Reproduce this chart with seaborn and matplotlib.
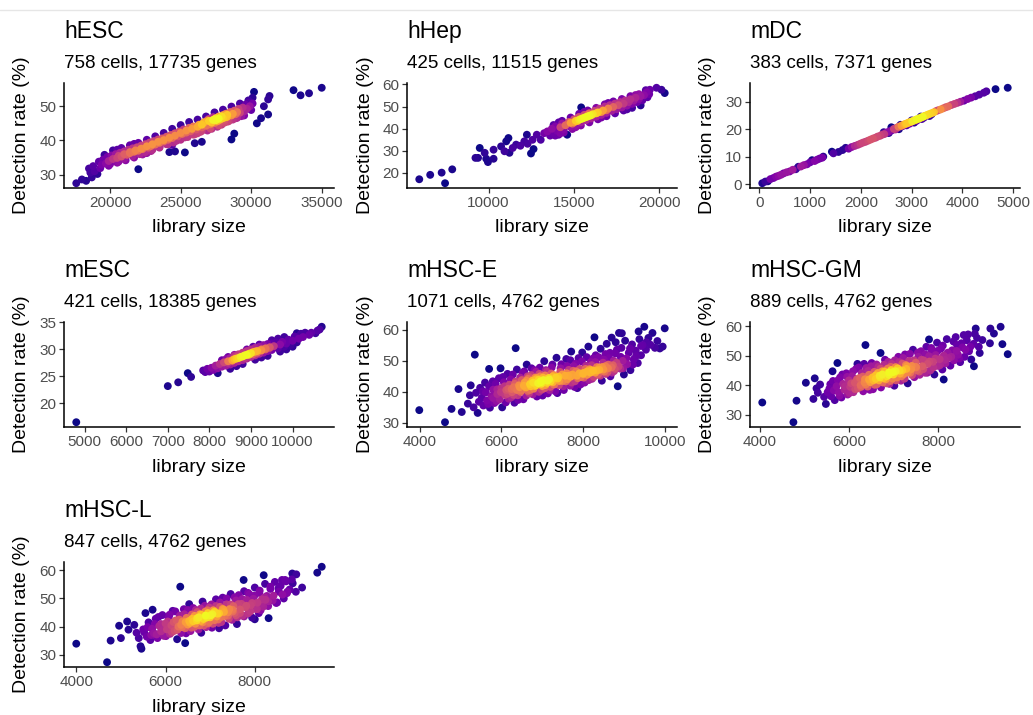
import numpy as np
import pandas as pd
import seaborn as sns
import matplotlib
matplotlib.use("Agg")
import matplotlib.pyplot as plt
from matplotlib.lines import Line2D

# ---- data (library size, detection rate %) ----
hesc_lib = [17600, 18000, 18300, 18700, 18600, 18500, 18900, 18800, 19100, 19200,
            19300, 19400, 19500, 19700, 19800, 19900, 20000, 20100, 20200, 20400,
            20500, 20600, 20700, 20800, 21000, 21000, 21200, 21300, 21400, 21600,
            21600, 21700, 21900, 22000, 22000, 22100, 22200, 22300, 22500, 22500,
            22700, 22800, 22900, 23000, 23100, 23200, 23400, 23500, 23500, 23700,
            23800, 24000, 24000, 24100, 24200, 24300, 24400, 24500, 24600, 24600,
            24800, 24900, 25000, 25100, 25300, 25200, 25400, 25500, 25600, 25700,
            25900, 26000, 26000, 26100, 26300, 26400, 26500, 26500, 26600, 26800,
            26900, 27000, 27100, 27200, 27300, 27400, 27500, 27600, 27600, 27700,
            27800, 27900, 28000, 28000, 28100, 28200, 28300, 28400, 28500, 28600,
            28600, 28700, 28800, 28800, 28900, 29000, 29100, 29200, 29300, 29400,
            29500, 29600, 29700, 29800, 29900, 30000, 30100, 30200, 30100, 30400,
            30700, 31200, 30900, 31200, 31300, 33000, 33500, 34100, 35000, 27300,
            27000, 27200, 27500, 27700, 27900, 28100, 28300, 26700, 26500, 26200,
            25800, 25400, 25000, 24600, 24200, 23800, 23400, 23000, 22600, 22200,
            21800, 21400, 21000, 20600, 28700, 29000, 27400, 27800, 26900, 28200,
            19600, 20200, 20800, 21400, 22000, 22600, 23200, 23800, 24400, 25000,
            25600, 26200, 26800, 27400, 28000, 28600, 29200, 29800, 20500, 21700,
            19900, 20500, 21100, 21700, 22300, 22900, 23500, 24100, 24700, 25300,
            25900, 26500, 27100, 27700, 28300, 28900, 29500, 22600, 24400, 26200]
hesc_det = [27.5, 28.6, 28.2, 29.2, 30.6, 31.8, 31.0, 32.5, 30.2, 33.8,
            31.9, 32.9, 34.4, 33.3, 35.2, 34.0, 33.1, 35.6, 34.6, 36.0,
            34.9, 33.8, 36.4, 35.3, 36.8, 34.6, 35.8, 37.3, 36.3, 35.4,
            37.7, 36.7, 38.0, 31.6, 37.0, 36.0, 38.5, 37.5, 36.6, 38.9,
            37.9, 39.4, 38.4, 37.3, 39.8, 38.8, 40.3, 39.3, 38.1, 40.6,
            39.7, 41.1, 38.9, 40.2, 36.6, 41.6, 40.7, 39.4, 42.1, 36.8,
            41.2, 42.6, 40.2, 41.9, 36.5, 43.2, 42.3, 41.0, 43.7, 42.7,
            44.1, 41.8, 39.2, 43.2, 44.6, 42.5, 39.6, 43.8, 45.1, 44.3,
            42.9, 45.7, 44.7, 43.4, 46.0, 45.1, 46.5, 44.0, 45.6, 47.0,
            46.1, 44.6, 47.4, 46.5, 45.2, 47.8, 46.9, 45.6, 48.3, 40.3,
            47.3, 46.1, 42.0, 48.7, 47.7, 46.6, 49.2, 48.1, 47.1, 49.6,
            48.5, 50.5, 49.3, 51.0, 50.0, 48.9, 52.5, 54.2, 50.8, 45.0,
            46.5, 47.6, 50.0, 52.0, 53.0, 54.7, 53.2, 53.8, 55.4, 46.8,
            46.3, 45.2, 45.9, 46.4, 47.0, 46.0, 47.5, 45.4, 44.6, 44.0,
            43.4, 42.9, 42.2, 41.4, 40.8, 40.1, 39.6, 38.9, 38.3, 37.6,
            37.1, 36.6, 36.0, 35.5, 47.8, 48.3, 46.2, 45.5, 45.9, 46.8,
            35.8, 37.1, 37.8, 38.6, 39.3, 40.2, 41.2, 42.2, 43.4, 44.5,
            45.4, 46.1, 47.0, 48.2, 49.0, 49.9, 50.8, 51.7, 37.3, 39.0,
            32.6, 33.5, 34.2, 35.0, 35.9, 36.9, 37.9, 38.9, 39.9, 40.9,
            41.7, 42.8, 43.5, 44.4, 45.5, 46.5, 47.3, 36.3, 38.7, 42.1]

hhep_lib = [5940, 6580, 7250, 7450, 7870, 9230, 9380, 9480, 9770, 9860,
            9960, 10290, 10290, 10730, 10930, 11030, 11160, 11220, 11410, 11610,
            11860, 12090, 12240, 12280, 12480, 12630, 12570, 12820, 13050, 13250,
            13440, 13600, 13700, 13800, 13900, 14000, 14100, 14200, 14300, 14400,
            14600, 14500, 14700, 14800, 14900, 15000, 15100, 15200, 15300, 15420,
            15400, 15500, 15600, 15700, 15800, 15900, 16000, 16100, 16200, 16300,
            16400, 16500, 16600, 16700, 16800, 16900, 17000, 17100, 17200, 17300,
            17400, 17500, 17600, 17700, 17800, 17900, 18000, 18100, 18200, 18300,
            18400, 18500, 18600, 18700, 18800, 18900, 19000, 19100, 19200, 19300,
            19250, 19440, 19830, 20120, 20310, 19400, 15000, 15300, 15600, 15900,
            15100, 15400, 15700, 16000, 16300, 14800, 16600, 16900, 15250, 15850,
            13800, 14300, 14800, 15300, 15800, 16300, 16800, 17300, 17800, 18300,
            18800, 14100, 15600, 17000, 18600, 13900, 14400, 14900, 15400, 15900,
            16400, 16900, 17400, 17900, 18400, 18900, 15100, 16600, 18100, 14200]
hhep_det = [17.0, 19.0, 20.0, 15.2, 21.5, 26.7, 26.7, 31.2, 29.0, 26.3,
            24.8, 26.3, 30.4, 31.9, 29.7, 34.2, 35.7, 29.0, 31.2, 32.7,
            32.2, 34.2, 37.2, 33.1, 28.7, 30.7, 34.9, 37.2, 34.9, 37.9,
            38.7, 36.8, 39.9, 38.2, 41.0, 39.0, 37.2, 40.6, 42.3, 39.6,
            37.2, 41.5, 43.0, 40.8, 42.2, 44.2, 41.6, 43.4, 45.3, 49.6,
            42.8, 44.6, 46.2, 43.8, 45.5, 47.0, 44.6, 46.5, 48.0, 45.4,
            47.3, 49.0, 46.2, 48.2, 50.0, 47.1, 49.1, 50.6, 48.0, 49.8,
            51.3, 48.8, 50.6, 52.0, 49.6, 51.3, 52.7, 50.4, 52.0, 53.3,
            51.2, 52.7, 54.0, 52.0, 53.4, 54.7, 52.8, 55.1, 57.4, 54.2,
            56.5, 57.6, 58.5, 57.6, 56.1, 55.6, 42.8, 44.0, 44.9, 45.8,
            43.5, 44.3, 45.2, 46.0, 46.9, 42.6, 47.5, 48.3, 45.0, 46.6,
            41.6, 43.5, 45.0, 46.7, 48.2, 49.4, 51.0, 52.3, 53.4, 54.7,
            55.6, 42.8, 47.6, 51.6, 55.2, 36.8, 38.2, 39.8, 41.4, 42.8,
            44.2, 45.6, 46.9, 48.2, 49.4, 50.5, 40.6, 45.0, 48.7, 37.9]

mdc_lib = [60, 120, 170, 220, 280, 330, 380, 430, 480, 540,
           600, 660, 720, 770, 820, 880, 940, 1000, 1040, 1090,
           1140, 1190, 1240, 1260, 1430, 1460, 1560, 1640, 1700, 1760,
           1820, 1880, 1940, 1990, 2040, 2090, 2140, 2190, 2240, 2290,
           2330, 2380, 2420, 2460, 2500, 2540, 2580, 2610, 2650, 2680,
           2710, 2740, 2770, 2800, 2830, 2860, 2890, 2920, 2950, 2980,
           3010, 3040, 3070, 3100, 3130, 3160, 3190, 3220, 3250, 3280,
           3320, 3360, 3400, 3440, 3480, 3520, 3570, 3620, 3670, 3720,
           3780, 3840, 3900, 3960, 4030, 4100, 4170, 4250, 4330, 4420,
           4470, 4650, 4890, 2600, 2750, 2900, 3050, 3200, 2450, 3350,
           2680, 2820, 2960, 3100, 3240, 3390, 2550, 2780, 3000, 3180]
mdc_det = [0.3, 0.9, 1.0, 1.8, 2.2, 2.7, 3.0, 3.4, 3.9, 4.3,
           4.6, 5.2, 5.4, 6.3, 6.4, 6.9, 7.2, 7.9, 8.7, 8.4,
           8.9, 9.3, 9.6, 10.0, 11.8, 11.2, 11.7, 12.4, 13.2, 12.9,
           13.5, 13.9, 14.3, 14.7, 15.1, 15.4, 15.8, 16.2, 16.6, 16.9,
           17.3, 17.6, 18.0, 18.2, 18.7, 19.0, 19.4, 19.6, 20.1, 20.3,
           20.5, 20.9, 21.0, 21.3, 21.5, 21.8, 22.0, 22.2, 22.5, 22.6,
           22.9, 23.1, 23.3, 23.6, 23.8, 24.0, 24.3, 24.5, 24.8, 25.0,
           25.3, 25.6, 25.9, 26.2, 26.6, 26.9, 27.2, 27.6, 28.0, 28.3,
           28.8, 29.2, 29.6, 30.0, 30.4, 31.0, 31.5, 32.0, 32.6, 33.3,
           33.8, 34.6, 35.1, 20.7, 20.0, 21.4, 22.4, 23.7, 18.9, 24.8,
           19.9, 21.1, 22.0, 23.1, 24.2, 25.4, 18.6, 21.6, 23.2, 24.6]

mesc_lib = [4800, 7000, 7250, 7480, 7560, 7850, 7900, 7950, 8000, 8050,
            8100, 8150, 8200, 8250, 8300, 8350, 8400, 8400, 8450, 8500,
            8500, 8550, 8600, 8600, 8650, 8700, 8700, 8750, 8800, 8800,
            8850, 8900, 8900, 8950, 9000, 9000, 9050, 9100, 9100, 9150,
            9200, 9200, 9250, 9300, 9300, 9350, 9400, 9400, 9450, 9500,
            9500, 9550, 9600, 9650, 9700, 9750, 9800, 9850, 9900, 9950,
            10000, 10050, 10100, 10150, 10200, 10250, 10300, 10400, 10450, 10550,
            10600, 10700, 10650, 8650, 8750, 8850, 8950, 9050, 9150, 8550,
            8700, 8800, 8900, 9000, 9100, 9250, 8600, 9350, 8450, 9450,
            8300, 8600, 8900, 9200, 9500, 9800, 10100, 8450, 9050, 9650,
            8200, 8500, 8800, 9100, 9400, 9700, 10000, 8650, 9250, 9850]
mesc_det = [16.5, 23.2, 23.9, 25.6, 24.9, 26.1, 25.8, 26.4, 25.9, 26.6,
            26.2, 27.0, 26.5, 27.3, 26.8, 27.6, 27.0, 28.2, 27.5, 28.4,
            27.2, 28.0, 28.8, 27.5, 28.3, 29.1, 27.8, 28.6, 29.4, 28.0,
            28.9, 29.7, 28.3, 29.2, 30.0, 28.6, 29.5, 30.3, 28.9, 29.7,
            30.5, 29.2, 30.0, 30.8, 29.4, 30.2, 31.0, 29.7, 30.4, 31.1,
            29.9, 30.6, 31.3, 30.2, 30.9, 31.4, 30.5, 31.1, 31.8, 30.8,
            31.6, 32.4, 31.3, 32.0, 32.9, 32.3, 33.1, 32.7, 33.1, 33.0,
            33.5, 34.2, 33.7, 28.6, 28.9, 28.4, 29.0, 29.1, 29.4, 27.9,
            28.4, 28.7, 29.0, 29.3, 29.6, 29.8, 28.2, 30.0, 27.8, 30.3,
            28.0, 29.0, 30.0, 30.9, 31.7, 32.3, 33.0, 28.6, 30.5, 32.0,
            25.6, 26.4, 27.3, 28.1, 28.8, 29.6, 30.5, 26.9, 28.5, 30.0]

hsce_lib = [3990, 4620, 4780, 4950, 5030, 5250, 5350, 6350, 5700, 5980,
            5180, 5230, 5320, 5380, 5420, 5450, 5480, 5520, 5560, 5600,
            5620, 5650, 5700, 5720, 5760, 5800, 5830, 5860, 5900, 5940,
            5960, 6000, 6020, 6060, 6090, 6120, 6150, 6180, 6200, 6230,
            6260, 6300, 6320, 6350, 6380, 6400, 6430, 6460, 6490, 6520,
            6540, 6570, 6600, 6620, 6650, 6680, 6700, 6730, 6760, 6790,
            6810, 6840, 6870, 6900, 6930, 6960, 6990, 7020, 7050, 7080,
            7110, 7140, 7170, 7200, 7230, 7260, 7290, 7320, 7350, 7380,
            7410, 7440, 7470, 7500, 7530, 7560, 7590, 7620, 7650, 7680,
            7710, 7740, 7770, 7800, 7830, 7860, 7890, 7920, 7950, 7980,
            8010, 8040, 8070, 8100, 8130, 8160, 8190, 8220, 8250, 8280,
            8310, 8340, 8370, 8400, 8430, 8460, 8490, 8520, 8550, 8580,
            8610, 8640, 8670, 8700, 8730, 8760, 8790, 8820, 8850, 8880,
            8910, 8940, 8970, 9000, 9030, 9080, 9120, 9160, 9200, 9240,
            9290, 9340, 9380, 9420, 9460, 9500, 9540, 9600, 9650, 9700,
            9760, 9820, 9880, 9950, 10000, 9360, 8950, 8800, 8550, 8250,
            6550, 6620, 6680, 6720, 6780, 6830, 6860, 6910, 6950, 6980,
            7030, 7070, 7120, 7160, 7210, 7260, 7300, 6450, 6380, 6250,
            8000, 8100, 8200, 8300, 8400, 8500, 8600, 8700, 7850, 7700,
            6150, 6080, 5900, 5800, 6300, 6650, 6850, 7000, 7400, 7600,
            5550, 5680, 5790, 5880, 5990, 6040, 6110, 6170, 6240, 6280,
            6330, 6410, 6470, 6500, 6560, 6610, 6640, 6700, 6740, 6770,
            6820, 6880, 6920, 6940, 6970, 7010, 7060, 7090, 7130, 7180,
            7220, 7250, 7280, 7330, 7370, 7420, 7450, 7490, 7520, 7580,
            7610, 7640, 7690, 7720, 7760, 7790, 7820, 7870, 7910, 7940,
            7970, 8020, 8060, 8090, 8140, 8180, 8210, 8260, 8300, 8330,
            8380, 8420, 8470, 8510, 8560, 8620, 8660, 8710, 8750, 8780,
            8830, 8870, 8920, 8980, 9060, 9150, 9220, 9300, 9420, 9550]
hsce_det = [34.1, 30.2, 34.5, 40.9, 33.5, 42.1, 52.0, 54.1, 47.4, 47.6,
            36.2, 38.9, 35.0, 39.7, 33.2, 36.8, 41.3, 38.1, 35.6, 43.0,
            39.8, 37.2, 41.8, 34.9, 38.6, 40.7, 36.4, 42.6, 39.3, 44.4,
            37.6, 41.2, 35.0, 43.1, 39.0, 40.6, 45.8, 37.8, 42.3, 44.0,
            39.9, 41.5, 36.5, 43.3, 47.2, 38.9, 42.1, 44.6, 40.4, 46.0,
            37.6, 43.0, 41.4, 48.8, 44.2, 39.6, 42.5, 45.4, 43.6, 41.0,
            47.0, 44.0, 38.5, 42.8, 45.8, 43.4, 40.7, 44.6, 49.9, 42.2,
            46.5, 39.5, 44.0, 41.6, 47.8, 43.1, 45.4, 40.2, 51.0, 44.3,
            42.2, 46.4, 48.9, 43.5, 40.6, 45.2, 50.6, 44.1, 47.1, 42.0,
            53.0, 45.6, 48.3, 43.4, 46.6, 41.2, 50.9, 47.4, 44.8, 52.7,
            46.1, 43.0, 48.4, 45.5, 54.6, 47.3, 49.6, 44.2, 46.8, 57.6,
            51.8, 48.0, 45.6, 47.1, 53.9, 43.6, 49.4, 46.5, 48.3, 55.5,
            47.6, 50.9, 45.0, 57.5, 48.6, 46.7, 52.4, 49.4, 41.8, 59.0,
            47.5, 54.2, 50.0, 45.6, 56.5, 48.9, 52.6, 47.0, 55.3, 50.5,
            53.3, 49.3, 57.0, 51.8, 55.1, 61.0, 53.6, 57.4, 55.2, 59.0,
            54.2, 56.4, 54.0, 54.6, 60.5, 59.5, 58.9, 56.0, 52.2, 50.8,
            42.0, 43.6, 44.8, 41.8, 43.0, 44.6, 42.2, 43.9, 45.0, 42.6,
            43.8, 45.3, 42.9, 44.5, 43.4, 45.0, 42.4, 41.5, 40.6, 40.9,
            45.8, 46.6, 47.0, 46.2, 47.8, 47.2, 46.4, 47.9, 45.2, 44.9,
            39.4, 41.8, 40.8, 38.0, 39.0, 40.3, 46.5, 41.9, 44.9, 46.0,
            40.2, 36.1, 43.4, 37.0, 39.9, 44.8, 36.6, 41.0, 38.2, 45.6,
            42.6, 37.4, 40.0, 43.8, 46.6, 38.8, 45.0, 40.6, 47.6, 39.2,
            41.9, 44.4, 40.0, 47.8, 43.1, 38.8, 41.2, 47.0, 43.6, 40.6,
            45.9, 48.8, 42.4, 44.6, 39.6, 43.5, 47.6, 45.6, 41.8, 43.4,
            48.3, 45.2, 50.2, 43.0, 46.8, 41.6, 49.1, 44.4, 46.0, 42.4,
            49.8, 44.6, 47.4, 51.2, 43.8, 46.2, 48.6, 44.8, 49.6, 46.9,
            51.2, 45.2, 48.0, 50.4, 45.8, 48.8, 52.6, 46.2, 50.0, 47.4,
            53.6, 48.2, 51.3, 47.6, 50.8, 54.0, 48.8, 51.6, 54.8, 56.0]

hscgm_lib = [4050, 4750, 4820, 5030, 5230, 5270, 5200, 5440, 5480, 5630,
             5740, 6190, 6340, 6370, 6710, 7800, 8130, 8810, 8850, 9180,
             9260, 9410, 9450, 9570, 9170, 8940, 8580, 8430, 5300, 5350,
             5560, 5600, 5640, 5680, 5720, 5770, 5800, 5830, 5870, 5900,
             5940, 5970, 6000, 6030, 6070, 6100, 6130, 6160, 6200, 6230,
             6260, 6290, 6320, 6360, 6390, 6420, 6450, 6480, 6510, 6540,
             6570, 6600, 6630, 6660, 6690, 6720, 6750, 6780, 6810, 6840,
             6870, 6900, 6930, 6960, 6990, 7020, 7050, 7080, 7110, 7140,
             7170, 7200, 7230, 7260, 7290, 7320, 7350, 7380, 7410, 7440,
             7470, 7500, 7530, 7560, 7590, 7620, 7650, 7680, 7710, 7740,
             7770, 7800, 7830, 7860, 7890, 7920, 7950, 7980, 8010, 8040,
             8070, 8100, 8130, 8170, 8200, 8240, 8280, 8320, 8360, 8400,
             8450, 8500, 8550, 8600, 8650, 8700, 8750, 8800, 8880, 9000,
             6600, 6650, 6700, 6750, 6800, 6850, 6900, 6950, 7000, 7050,
             7100, 7150, 7200, 6550, 6450, 6350, 7300, 7400, 7500, 6250,
             5520, 5580, 5660, 5750, 5790, 5850, 5910, 5960, 6010, 6050,
             6090, 6140, 6180, 6220, 6270, 6310, 6380, 6430, 6470, 6500,
             6530, 6580, 6620, 6670, 6710, 6760, 6790, 6830, 6880, 6910,
             6940, 6980, 7030, 7060, 7090, 7130, 7180, 7220, 7250, 7280,
             7330, 7370, 7420, 7460, 7510, 7550, 7580, 7630, 7670, 7720,
             7760, 7810, 7850, 7900, 7940, 7990, 8050, 8110, 8160, 8220,
             8300, 8350, 8420, 8480, 8530, 8620, 8680, 8730, 8830, 8920]
hscgm_det = [34.1, 27.4, 34.7, 40.8, 42.3, 38.9, 35.3, 36.0, 33.6, 44.7,
             47.5, 47.2, 47.2, 53.6, 50.9, 55.5, 41.9, 46.4, 59.2, 59.2,
             57.5, 59.8, 53.9, 50.5, 54.2, 50.9, 57.0, 53.6, 37.4, 40.2,
             38.8, 36.2, 41.4, 34.9, 39.6, 37.5, 42.6, 35.8, 40.4, 38.4,
             44.0, 36.8, 41.6, 39.4, 43.0, 37.6, 40.8, 45.5, 38.9, 42.4,
             40.0, 44.1, 37.9, 42.0, 45.8, 39.5, 43.5, 41.0, 47.5, 38.6,
             44.5, 42.1, 40.3, 46.2, 43.2, 39.2, 44.7, 42.3, 48.6, 40.6,
             45.6, 43.5, 41.4, 47.2, 44.4, 39.8, 46.1, 42.6, 49.6, 44.9,
             41.5, 47.3, 43.7, 50.4, 45.5, 40.6, 48.2, 44.2, 46.5, 52.0,
             42.7, 47.6, 45.0, 49.6, 43.5, 51.5, 46.4, 48.4, 44.2, 53.0,
             47.2, 49.8, 45.0, 51.8, 47.9, 43.6, 50.2, 54.4, 46.5, 48.8,
             52.4, 45.3, 50.0, 47.4, 55.6, 49.2, 46.6, 51.8, 48.4, 56.3,
             50.3, 47.8, 52.8, 49.6, 55.2, 51.5, 48.7, 54.0, 56.0, 55.3,
             43.3, 44.1, 42.6, 43.6, 44.6, 43.0, 44.3, 45.1, 43.6, 44.7,
             45.6, 43.9, 45.0, 41.6, 41.9, 40.9, 46.4, 45.4, 46.2, 42.3,
             37.6, 40.3, 38.2, 41.6, 36.4, 43.6, 39.6, 42.8, 37.3, 40.6,
             44.7, 38.6, 42.0, 46.0, 39.4, 42.9, 40.2, 44.8, 38.4, 46.4,
             42.6, 40.1, 47.0, 41.6, 45.6, 40.9, 46.9, 42.0, 47.9, 40.4,
             46.2, 42.2, 48.4, 41.6, 45.6, 47.8, 43.0, 49.2, 42.2, 46.8,
             44.4, 50.6, 43.4, 48.4, 46.0, 51.0, 44.6, 48.6, 45.4, 50.4,
             44.2, 48.0, 52.6, 46.0, 49.0, 51.6, 46.8, 53.4, 48.6, 51.0,
             49.6, 54.8, 51.6, 49.0, 54.2, 52.0, 57.2, 53.0, 57.4, 53.0]

hscl_lib = [4000, 4690, 4770, 4960, 5000, 5140, 5170, 5400, 5440, 5460,
            5550, 5710, 6330, 6440, 7750, 8310, 8200, 8540, 8720, 8610,
            8840, 8930, 9060, 9400, 9500, 8240, 8090, 5300, 5350, 5500,
            5580, 5620, 5660, 5700, 5740, 5780, 5820, 5860, 5900, 5930,
            5960, 6000, 6030, 6070, 6100, 6130, 6160, 6200, 6230, 6260,
            6290, 6320, 6350, 6380, 6410, 6440, 6470, 6500, 6530, 6560,
            6590, 6620, 6650, 6680, 6710, 6740, 6770, 6800, 6830, 6860,
            6890, 6920, 6950, 6980, 7010, 7040, 7070, 7100, 7130, 7160,
            7190, 7220, 7250, 7280, 7310, 7340, 7370, 7400, 7430, 7460,
            7490, 7520, 7550, 7580, 7610, 7640, 7670, 7700, 7730, 7760,
            7790, 7820, 7850, 7880, 7910, 7940, 7970, 8000, 8030, 8060,
            8100, 8130, 8160, 8190, 8230, 8270, 8300, 8350, 8400, 8450,
            8500, 8580, 8650, 8700, 8780, 8850, 8000, 7600, 7200, 6800,
            6600, 6650, 6700, 6750, 6800, 6850, 6900, 6950, 7000, 7050,
            7100, 7150, 7200, 6550, 6450, 6350, 7300, 7400, 7500, 6250,
            5520, 5600, 5680, 5760, 5800, 5840, 5900, 5950, 6010, 6050,
            6090, 6140, 6180, 6220, 6270, 6310, 6370, 6420, 6460, 6500,
            6530, 6580, 6620, 6670, 6710, 6760, 6790, 6830, 6880, 6910,
            6940, 6980, 7030, 7060, 7090, 7130, 7180, 7220, 7250, 7280,
            7330, 7370, 7420, 7460, 7510, 7550, 7580, 7630, 7670, 7720,
            7760, 7810, 7850, 7900, 7940, 7990, 8050, 8110, 8160, 8220,
            8300, 8350, 8420, 8480, 8530, 8620, 8680, 8730, 8830, 8920]
hscl_det = [33.9, 27.3, 35.0, 40.3, 35.9, 41.8, 38.9, 35.9, 33.0, 32.1,
            44.8, 46.0, 54.2, 34.1, 56.6, 43.0, 58.3, 52.4, 51.9, 56.6,
            58.9, 58.6, 53.9, 59.2, 61.3, 49.5, 44.8, 40.6, 37.8, 39.0,
            36.4, 41.5, 35.2, 39.2, 37.6, 42.8, 35.9, 40.2, 38.3, 44.1,
            36.7, 41.1, 39.0, 43.2, 37.4, 40.4, 45.6, 38.5, 42.2, 35.5,
            40.0, 43.9, 37.7, 41.8, 46.2, 39.4, 43.1, 40.7, 48.0, 38.4,
            44.3, 41.9, 39.9, 45.9, 43.0, 39.0, 44.4, 42.0, 48.9, 40.4,
            45.3, 43.2, 41.1, 46.8, 44.0, 39.6, 45.8, 42.3, 49.7, 44.6,
            41.3, 47.0, 43.4, 50.3, 45.2, 40.4, 47.9, 43.9, 46.2, 51.6,
            42.4, 47.3, 44.8, 49.3, 43.3, 51.2, 46.1, 48.1, 43.9, 52.6,
            46.9, 49.5, 44.7, 51.5, 47.6, 43.2, 49.9, 53.9, 46.2, 48.5,
            52.0, 45.8, 49.7, 47.1, 55.2, 50.9, 47.3, 53.4, 49.3, 55.9,
            48.6, 54.5, 50.0, 56.1, 53.2, 55.4, 42.6, 40.9, 39.4, 37.8,
            42.8, 43.8, 42.2, 43.3, 44.2, 42.7, 43.9, 44.8, 43.3, 44.4,
            45.3, 43.6, 44.7, 41.3, 41.6, 40.6, 46.0, 45.1, 46.0, 42.0,
            38.0, 39.8, 37.0, 40.9, 37.2, 43.4, 40.9, 39.0, 36.6, 41.8,
            44.2, 38.0, 41.6, 45.4, 38.9, 42.5, 39.8, 44.4, 37.6, 45.9,
            42.0, 39.6, 46.6, 41.0, 45.2, 40.4, 46.4, 41.5, 47.4, 39.8,
            45.8, 41.6, 47.9, 41.0, 45.1, 47.3, 42.5, 48.6, 41.6, 46.3,
            43.8, 50.0, 42.8, 47.9, 45.4, 50.4, 44.0, 48.0, 44.8, 49.8,
            43.6, 47.4, 52.0, 45.4, 48.4, 51.0, 46.2, 52.8, 48.0, 50.4,
            49.0, 54.2, 51.0, 48.4, 53.6, 51.4, 56.6, 52.4, 56.8, 52.4]

names = ["hESC", "hHep", "mDC", "mESC", "mHSC-E", "mHSC-GM", "mHSC-L"]
subtitles = ["758 cells, 17735 genes", "425 cells, 11515 genes", "383 cells, 7371 genes",
             "421 cells, 18385 genes", "1071 cells, 4762 genes", "889 cells, 4762 genes",
             "847 cells, 4762 genes"]
xticks = [[20000, 25000, 30000, 35000], [10000, 15000, 20000], [0, 1000, 2000, 3000, 4000, 5000],
          [5000, 6000, 7000, 8000, 9000, 10000], [4000, 6000, 8000, 10000], [4000, 6000, 8000],
          [4000, 6000, 8000]]
yticks = [[30, 40, 50], [20, 30, 40, 50, 60], [0, 10, 20, 30], [20, 25, 30, 35],
          [30, 40, 50, 60], [30, 40, 50, 60], [30, 40, 50, 60]]
libs = [hesc_lib, hhep_lib, mdc_lib, mesc_lib, hsce_lib, hscgm_lib, hscl_lib]
dets = [hesc_det, hhep_det, mdc_det, mesc_det, hsce_det, hscgm_det, hscl_det]


def point_density(x, y, bw=0.7):
    # gaussian kde evaluated at each point, narrower than scott's rule
    d = np.vstack([x, y])
    n = d.shape[1]
    cov = np.cov(d) * (bw * n ** (-1.0 / 6)) ** 2
    inv = np.linalg.inv(cov)
    diff = d[:, :, None] - d[:, None, :]
    m = np.einsum("ijk,il,ljk->jk", diff, inv, diff)
    dens = np.exp(-0.5 * m).sum(axis=1)
    dens = (dens - dens.min()) / (dens.max() - dens.min())
    return dens ** 1.3


sns.set_style("ticks")
plt.rcParams["font.family"] = ["Liberation Sans", "DejaVu Sans"]
plt.rcParams["text.color"] = "black"

W, H = 1033, 715
fig = plt.figure(figsize=(W / 100, H / 100), dpi=100)

col_left = [64, 407, 750]
row_top = [83, 322, 562]
aw, ah = 270, 105

for i, name in enumerate(names):
    r, c = divmod(i, 3)
    left, top = col_left[c], row_top[r]
    ax = fig.add_axes([left / W, 1 - (top + ah) / H, aw / W, ah / H])
    df = pd.DataFrame({"lib": libs[i], "det": dets[i]})
    df["dens"] = point_density(df["lib"].values, df["det"].values)
    df = df.sort_values("dens")
    sns.scatterplot(data=df, x="lib", y="det", hue="dens", palette="plasma",
                    hue_norm=(0, 1), s=32, linewidth=0, legend=False, ax=ax)
    ax.set_xticks(xticks[i])
    ax.set_yticks(yticks[i])
    ax.set_xlabel("")
    ax.set_ylabel("")
    sns.despine(ax=ax)
    for sp in ["left", "bottom"]:
        ax.spines[sp].set_linewidth(1.1)
        ax.spines[sp].set_color("black")
    ax.tick_params(length=3.5, width=0.9, color="#333333", labelcolor="#4D4D4D",
                   labelsize=11, pad=2)

    fig.text(left / W, 1 - (top - 45) / H, name, fontsize=16.5, va="baseline")
    fig.text(left / W, 1 - (top - 15) / H, subtitles[i], fontsize=13.5, va="baseline")
    fig.text((left - 42) / W, 1 - (top + ah / 2) / H, "Detection rate (%)",
             rotation=90, fontsize=14, ha="center", va="center")
    fig.text((left + aw / 2) / W, 1 - (top + ah + 40) / H, "library size",
             fontsize=14, ha="center", va="center")

fig.add_artist(Line2D([0, 1], [1 - 10 / H, 1 - 10 / H], color="#e6e6e6", lw=1))

fig.savefig("out.png", dpi=100)
